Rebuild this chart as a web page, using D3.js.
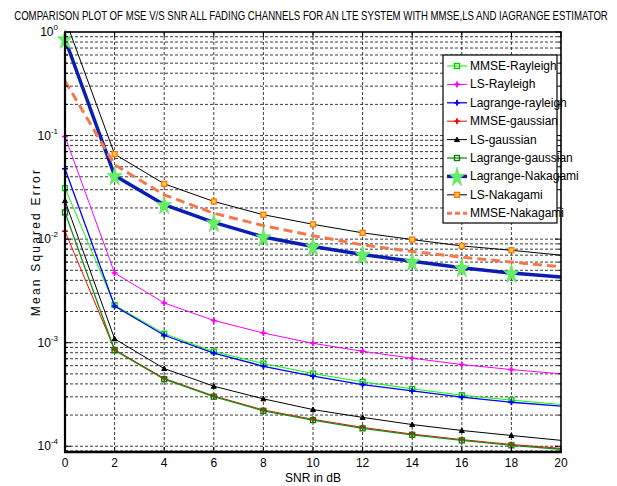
<!DOCTYPE html>
<html>
<head>
<meta charset="utf-8">
<script src="https://cdn.jsdelivr.net/npm/d3@7/dist/d3.min.js"></script>
<style>
  html, body { margin: 0; padding: 0; background: #fff; }
  svg { display: block; }
  text { font-family: 'Liberation Sans Narrow', 'Arial Narrow', 'Liberation Sans', Arial, sans-serif; fill: #000; }
</style>
</head>
<body>
<svg id="chart" width="617" height="486"></svg>
<script>
// SNR points (dB)
const snr = [0, 2, 4, 6, 8, 10, 12, 14, 16, 18, 20];

// Mean squared error per estimator / channel
const mmseRayleigh     = [0.0311, 0.00231, 0.00122, 0.000820, 0.000629, 0.000503, 0.000419, 0.000358, 0.000311, 0.000279, 0.000253];
const lsRayleigh       = [0.098, 0.00471, 0.00242, 0.00164, 0.00124, 0.000986, 0.000826, 0.000708, 0.000615, 0.000550, 0.000500];
const lagrangeRayleigh = [0.0478, 0.00226, 0.00118, 0.000795, 0.000592, 0.000475, 0.000394, 0.000343, 0.000298, 0.000266, 0.000244];
const mmseGaussian     = [0.0119, 0.000858, 0.000452, 0.000306, 0.000224, 0.000182, 0.000152, 0.000131, 0.000116, 0.000104, 0.0000955];
const lsGaussian       = [0.0235, 0.00109, 0.000562, 0.000380, 0.000287, 0.000226, 0.000190, 0.000162, 0.000142, 0.000127, 0.000114];
const lagrangeGaussian = [0.0181, 0.000845, 0.000444, 0.000301, 0.000220, 0.000179, 0.000149, 0.000129, 0.000114, 0.000102, 0.0000935];
const lagrangeNakagami = [0.856, 0.0411, 0.0215, 0.0145, 0.0105, 0.0085, 0.0071, 0.0061, 0.0053, 0.0047, 0.0043];
const lsNakagami       = [1.35, 0.0662, 0.0342, 0.0231, 0.0172, 0.0139, 0.0115, 0.0099, 0.0086, 0.0078, 0.0070];
const mmseNakagami     = [0.337, 0.0522, 0.0268, 0.0178, 0.0135, 0.0108, 0.0088, 0.0076, 0.0067, 0.0060, 0.0054];

const seriesNames = ["MMSE-Rayleigh", "LS-Rayleigh", "Lagrange-rayleigh", "MMSE-gaussian", "LS-gaussian",
                     "Lagrange-gaussian", "Lagrange-Nakagami", "LS-Nakagami", "MMSE-Nakagami"];
const seriesValues = [mmseRayleigh, lsRayleigh, lagrangeRayleigh, mmseGaussian, lsGaussian,
                      lagrangeGaussian, lagrangeNakagami, lsNakagami, mmseNakagami];

const xTicks = [0, 2, 4, 6, 8, 10, 12, 14, 16, 18, 20];
const yDecades = [1, 0.1, 0.01, 0.001, 0.0001];
const yExponents = ["0", "-1", "-2", "-3", "-4"];

const titleText = "COMPARISON PLOT OF MSE V/S SNR ALL FADING CHANNELS FOR AN LTE SYSTEM WITH MMSE,LS AND IAGRANGE ESTIMATOR";
const xLabel = "SNR in dB";
const yLabel = "Mean Squared Error";

// Line / marker styling per series
const styles = [
  { stroke: "#00ff00", width: 1,   marker: "square", mStroke: "#00cc00", mFill: "none", mSize: 5 },
  { stroke: "#ff00ff", width: 1,   marker: "plus",   mStroke: "#ff00ff", mFill: "none", mSize: 6 },
  { stroke: "#0000ff", width: 1.3, marker: "plus",   mStroke: "#0000ff", mFill: "none", mSize: 6 },
  { stroke: "#ff0000", width: 1,   marker: "plus",   mStroke: "#ff0000", mFill: "none", mSize: 6 },
  { stroke: "#000000", width: 1,   marker: "tri",    mStroke: "#000000", mFill: "none", mSize: 5 },
  { stroke: "#109010", width: 1.3, marker: "square", mStroke: "#0a7a0a", mFill: "none", mSize: 5 },
  { stroke: "#0a1eb4", width: 3.5, marker: "star",   mStroke: "#5ae65a", mFill: "#66ee66", mSize: 70 },
  { stroke: "#000000", width: 1,   marker: "osq",    mStroke: "#ff7020", mFill: "#ffd21e", mSize: 5 },
  { stroke: "#f5784a", width: 3,   marker: null, dash: "9,5" }
];

const W = 617, H = 486;
const plot = { left: 65, right: 561, top: 32, bottom: 452 };

const svg = d3.select("#chart");
const x = d3.scaleLinear().domain([0, 20]).range([plot.left, plot.right]);
const y = d3.scaleLog().domain([8.8e-5, 1]).range([plot.bottom, plot.top]);

svg.append("rect").attr("width", W).attr("height", H).attr("fill", "#fff");

// Grid: vertical at x ticks, horizontal at every log tick
const gridG = svg.append("g").attr("stroke", "#000").attr("stroke-width", 0.9)
  .attr("stroke-dasharray", "3,2").attr("fill", "none").attr("opacity", 0.85);
xTicks.slice(1, -1).forEach(t => {
  gridG.append("line").attr("x1", x(t)).attr("x2", x(t))
    .attr("y1", plot.top).attr("y2", plot.bottom);
});
const logTicks = y.ticks().filter(v => v >= y.domain()[0] && v < 1);
logTicks.forEach(v => {
  gridG.append("line").attr("x1", plot.left).attr("x2", plot.right)
    .attr("y1", y(v)).attr("y2", y(v));
});

// Clip path for the curves
svg.append("clipPath").attr("id", "plotClip").append("rect")
  .attr("x", plot.left).attr("y", plot.top)
  .attr("width", plot.right - plot.left).attr("height", plot.bottom - plot.top);

const line = d3.line().x((d, i) => x(snr[i])).y(d => y(d));

function drawMarker(g, kind, cx, cy, st) {
  if (kind === "square" || kind === "osq") {
    const s = st.mSize;
    g.append("rect").attr("x", cx - s / 2).attr("y", cy - s / 2).attr("width", s).attr("height", s)
      .attr("fill", st.mFill).attr("stroke", st.mStroke).attr("stroke-width", 1.3);
  } else if (kind === "plus") {
    const s = st.mSize / 2;
    g.append("path").attr("d", `M${cx - s},${cy}H${cx + s}M${cx},${cy - s}V${cy + s}`)
      .attr("stroke", st.mStroke).attr("stroke-width", 1.6).attr("fill", "none");
    g.append("path").attr("d", `M${cx},${cy - 2.5}L${cx + 2},${cy}L${cx},${cy + 2.5}L${cx - 2},${cy}Z`)
      .attr("fill", st.mStroke);
  } else if (kind === "tri") {
    const s = st.mSize / 2;
    g.append("path").attr("d", `M${cx},${cy - s}L${cx + s},${cy + s * 0.8}L${cx - s},${cy + s * 0.8}Z`)
      .attr("fill", "#000").attr("stroke", st.mStroke).attr("stroke-width", 1);
  } else if (kind === "star") {
    g.append("path").attr("d", d3.symbol(d3.symbolStar, st.mSize)())
      .attr("transform", `translate(${cx},${cy + 1}) scale(1,1.3)`)
      .attr("fill", st.mFill).attr("stroke", st.mStroke).attr("stroke-width", 0.6);
  }
}

const curves = svg.append("g");
seriesValues.forEach((vals, k) => {
  const st = styles[k];
  curves.append("path").datum(vals).attr("d", line)
    .attr("clip-path", "url(#plotClip)")
    .attr("fill", "none").attr("stroke", st.stroke).attr("stroke-width", st.width)
    .attr("stroke-dasharray", st.dash || null);
  if (st.marker) {
    const mg = curves.append("g");
    vals.forEach((v, i) => {
      if (snr[i] >= 20 || v > 1) return;
      drawMarker(mg, st.marker, x(snr[i]), y(v), st);
    });
  }
});

// Axes box
const axG = svg.append("g").attr("stroke", "#000").attr("fill", "none");
axG.append("rect").attr("x", plot.left).attr("y", plot.top)
  .attr("width", plot.right - plot.left).attr("height", plot.bottom - plot.top)
  .attr("stroke-width", 1.6);
axG.append("line").attr("x1", plot.left - 1).attr("x2", plot.right + 1)
  .attr("y1", plot.bottom).attr("y2", plot.bottom).attr("stroke-width", 2.4);
axG.append("line").attr("x1", plot.left).attr("x2", plot.left)
  .attr("y1", plot.top).attr("y2", plot.bottom).attr("stroke-width", 2.2);

// Ticks (inward)
xTicks.forEach(t => {
  axG.append("line").attr("x1", x(t)).attr("x2", x(t)).attr("y1", plot.bottom).attr("y2", plot.bottom - 5).attr("stroke-width", 1);
  axG.append("line").attr("x1", x(t)).attr("x2", x(t)).attr("y1", plot.top).attr("y2", plot.top + 5).attr("stroke-width", 1);
});
logTicks.concat([1]).forEach(v => {
  const major = yDecades.includes(v);
  const len = major ? 6 : 3;
  axG.append("line").attr("x1", plot.left).attr("x2", plot.left + len).attr("y1", y(v)).attr("y2", y(v)).attr("stroke-width", 1);
  axG.append("line").attr("x1", plot.right).attr("x2", plot.right - len).attr("y1", y(v)).attr("y2", y(v)).attr("stroke-width", 1);
});

// Tick labels
const xAxisLabels = svg.append("g").attr("font-size", 12).attr("text-anchor", "middle");
xTicks.forEach(t => {
  xAxisLabels.append("text").attr("x", x(t)).attr("y", plot.bottom + 15).text(t);
});
const yAxisLabels = svg.append("g").attr("font-size", 12);
yDecades.forEach((v, i) => {
  const tx = yAxisLabels.append("text").attr("x", plot.left - 7).attr("y", y(v) + 4).attr("text-anchor", "end");
  tx.append("tspan").text("10");
  tx.append("tspan").attr("dy", -6).attr("font-size", 8).text(yExponents[i]);
});

// Title: condensed horizontally to span the figure width
const titleWidth = 594, titleCenter = 311;
const title = svg.append("g");
const titleNode = title.append("text").attr("x", 0).attr("y", 0).attr("text-anchor", "middle")
  .attr("font-size", 12).text(titleText);
const natural = titleNode.node().getComputedTextLength();
title.attr("transform", `translate(${titleCenter},20) scale(${Math.min(1, titleWidth / natural)},1)`);

// Axis labels
svg.append("text").attr("x", (plot.left + plot.right) / 2).attr("y", 482).attr("text-anchor", "middle")
  .attr("font-size", 12).text(xLabel);
svg.append("text").attr("transform", `translate(40,${(plot.top + plot.bottom) / 2}) rotate(-90)`)
  .attr("text-anchor", "middle").attr("font-size", 12).attr("letter-spacing", 2.2).text(yLabel);

// Legend
const lg = { x: 443, y: 55, w: 114, h: 168, row: 18.4, first: 66 };
const legend = svg.append("g");
legend.append("rect").attr("x", lg.x).attr("y", lg.y).attr("width", lg.w).attr("height", lg.h)
  .attr("fill", "#fff").attr("stroke", "#000").attr("stroke-width", 1.2);
seriesNames.forEach((name, k) => {
  const st = styles[k];
  const cy = lg.first + k * lg.row;
  legend.append("line").attr("x1", lg.x + 4).attr("x2", lg.x + 24).attr("y1", cy).attr("y2", cy)
    .attr("stroke", st.stroke).attr("stroke-width", st.width).attr("stroke-dasharray", st.dash ? "5,3" : null);
  if (st.marker) drawMarker(legend, st.marker, lg.x + 14, cy, st);
  legend.append("text").attr("x", lg.x + 27).attr("y", cy + 4).attr("font-size", 12).text(name);
});
</script>
</body>
</html>
